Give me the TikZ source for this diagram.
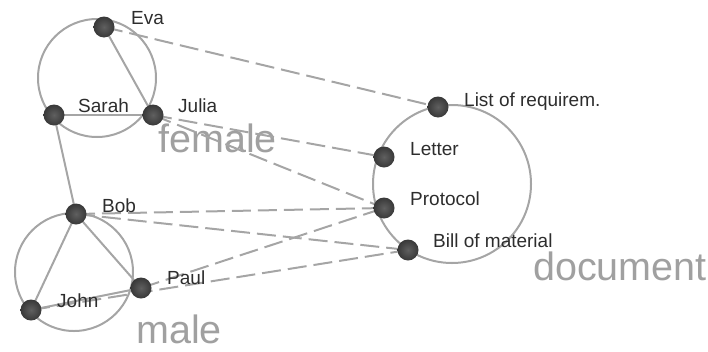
\documentclass[tikz,border=0pt]{standalone}
\usepackage{fontspec}
\setmainfont{Liberation Sans}
\usetikzlibrary{backgrounds}
\begin{document}
\begin{tikzpicture}[x=1pt,y=-1pt,
  grp/.style={draw=lgray,line width=2pt},
  solidedge/.style={draw=lgray,line width=2pt},
  dashedge/.style={draw=lgray,line width=2pt,dash pattern=on 19pt off 7pt},
  vtx/.style={circle,inner sep=0pt,minimum size=21pt,shading=radial,inner color=gray!75!black,outer color=black!78},
  lbl/.style={anchor=base west,inner sep=0pt,text=tcol,font=\fontsize{19}{21}\selectfont},
  biglbl/.style={anchor=base west,inner sep=0pt,text=bcol,font=\fontsize{39.5}{42}\selectfont}]
\definecolor{lgray}{RGB}{165,165,165}
\definecolor{tcol}{RGB}{45,45,45}
\definecolor{bcol}{RGB}{160,160,160}
\useasboundingbox (0,0) rectangle (708,351);
% vertices
\node[vtx] (eva) at (104,27) {};
\node[vtx] (sarah) at (54,115) {};
\node[vtx] (julia) at (153,115) {};
\node[vtx] (bob) at (76,214) {};
\node[vtx] (john) at (31,310) {};
\node[vtx] (paul) at (141,288) {};
\node[vtx] (lreq) at (438,107) {};
\node[vtx] (letter) at (384,157) {};
\node[vtx] (prot) at (384,208) {};
\node[vtx] (bill) at (408,250) {};
\begin{scope}[on background layer]
% group circles
\draw[grp] (97,78) circle[radius=59];
\draw[grp] (74,272) circle[radius=59];
\draw[grp] (452,184) circle[radius=79];
% big labels
\node[biglbl] (fem) at (158,152) {female};
\node[biglbl] (mal) at (136,343) {male};
\node[biglbl] (doc) at (533,280) {document};
% edges
\draw[solidedge] (eva.center) -- (julia.center);
\draw[solidedge] (sarah.center) -- (julia.center);
\draw[solidedge] (sarah.center) -- (bob.center);
\draw[solidedge] (bob.center) -- (john.center);
\draw[solidedge] (bob.center) -- (paul.center);
\draw[solidedge] (john.center) -- (paul.center);
\draw[dashedge] (eva.center) -- (lreq.center);
\draw[dashedge] (julia.center) -- (letter.center);
\draw[dashedge] (julia.center) -- (prot.center);
\draw[dashedge] (bob.center) -- (prot.center);
\draw[dashedge] (bob.center) -- (bill.center);
\draw[dashedge] (paul.center) -- (prot.center);
\draw[dashedge] (john.center) -- (bill.center);
\end{scope}
% labels
\node[lbl] (leva) at (131,24) {Eva};
\node[lbl] (lsarah) at (78,112) {Sarah};
\node[lbl] (ljulia) at (178,112) {Julia};
\node[lbl] (lbob) at (102,212) {Bob};
\node[lbl] (ljohn) at (57,307) {John};
\node[lbl] (lpaul) at (167,284) {Paul};
\node[lbl] (llreq) at (464,106) {List of requirem.};
\node[lbl] (lletter) at (410,155) {Letter};
\node[lbl] (lprot) at (410,205) {Protocol};
\node[lbl] (lbill) at (433,247) {Bill of material};
\end{tikzpicture}
\end{document}
